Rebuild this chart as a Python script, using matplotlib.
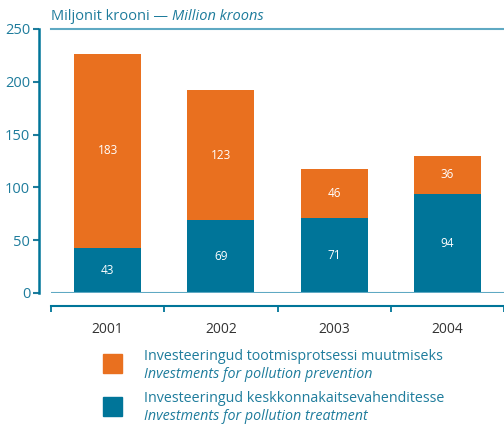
import numpy as np
import matplotlib.pyplot as plt
from matplotlib.patches import Rectangle

years = ['2001', '2002', '2003', '2004']
treatment = [43, 69, 71, 94]
prevention = [183, 123, 46, 36]

labels_et = ['Investeeringud tootmisprotsessi muutmiseks',
             'Investeeringud keskkonnakaitsevahenditesse']
labels_en = ['Investments for pollution prevention',
             'Investments for pollution treatment']

orange = '#E9701F'
teal = '#007599'
txt = '#1E7C9C'
line = '#5FA9C3'

plt.rcParams['font.family'] = ['Open Sans', 'DejaVu Sans']

fig = plt.figure(figsize=(5.04, 4.25), dpi=100)
ax = fig.add_axes([51/504, 132/425, 453/504, 264/425])

x = np.arange(len(years))
w = 0.59
ax.bar(x, treatment, w, color=teal, zorder=2)
ax.bar(x, prevention, w, bottom=treatment, color=orange, zorder=2)

for i in range(len(years)):
    ax.text(x[i], treatment[i] / 2, str(treatment[i]), ha='center', va='center',
            color='white', fontsize=8.5)
    ax.text(x[i], treatment[i] + prevention[i] / 2, str(prevention[i]),
            ha='center', va='center', color='white', fontsize=8.5)

ax.set_xlim(-0.5, len(years) - 0.5)
ax.set_ylim(0, 250)
ax.set_yticks([0, 50, 100, 150, 200, 250])
ax.tick_params(axis='y', colors=txt, labelsize=10.5, length=4, width=1.5,
               direction='out', pad=2)

# category labels at centres, boundary ticks on the lower axis line
ax.set_xticks(x)
ax.set_xticklabels(years)
ax.set_xticks(np.arange(-0.5, len(years)), minor=True)
ax.tick_params(axis='x', which='major', length=0, pad=12, labelsize=10,
               labelcolor='#333333')
ax.tick_params(axis='x', which='minor', length=4, width=1.3, color=teal,
               direction='out')

ax.spines['right'].set_visible(False)
ax.spines['left'].set_position(('outward', 9))
ax.spines['left'].set_color(teal)
ax.spines['left'].set_linewidth(1.8)
ax.spines['bottom'].set_position(('outward', 9))
ax.spines['bottom'].set_color(teal)
ax.spines['bottom'].set_linewidth(1.5)
ax.spines['top'].set_color(line)
ax.spines['top'].set_linewidth(1.5)
ax.axhline(0, color=line, lw=1.5, zorder=3)

fig.text(51/504, 1 - 17/425, 'Miljonit krooni — ', color=txt, fontsize=10.5,
         va='center', ha='left')
fig.canvas.draw()
r = fig.texts[0].get_window_extent()
fig.text(r.x1 / 504, 1 - 17/425, 'Million kroons', color=txt, fontsize=10.5,
         style='italic', va='center', ha='left')

# legend
for i, c in enumerate([orange, teal]):
    y0 = 354 + i * 43
    fig.patches.append(Rectangle((103/504, 1 - (y0 + 19)/425), 19/504, 19/425,
                                 transform=fig.transFigure, color=c, figure=fig))
    fig.text(144/504, 1 - (y0 + 2)/425, labels_et[i], color=txt, fontsize=10.3,
             va='center', ha='left')
    fig.text(144/504, 1 - (y0 + 20)/425, labels_en[i], color=txt, fontsize=10.3,
             style='italic', va='center', ha='left')

fig.savefig('out.png', dpi=100)
